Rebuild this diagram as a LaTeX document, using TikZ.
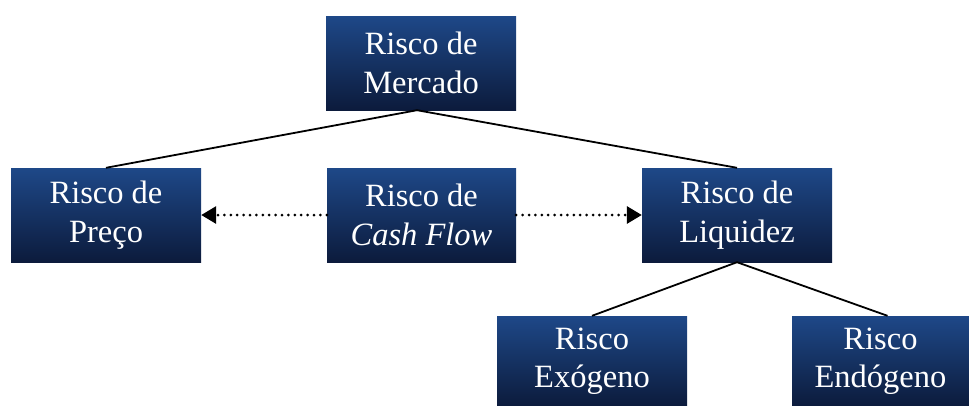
\documentclass[tikz,border=0pt]{standalone}
\usepackage{fontspec}
\setmainfont{Liberation Serif}
\usetikzlibrary{arrows.meta}
\definecolor{boxtop}{RGB}{30,72,136}
\definecolor{boxbot}{RGB}{12,27,60}
\begin{document}
\begin{tikzpicture}[x=1pt,y=-1pt,
  box/.style={rectangle, inner sep=0pt, top color=boxtop, bottom color=boxbot, draw=none,
    text=white, align=center, font=\fontsize{32.5}{38.5}\selectfont},
  link/.style={draw=black, line width=1.8pt},
  dotarrow/.style={draw=black, line width=3pt, line cap=round, dash pattern=on 0pt off 6.4pt,
    -{Triangle[length=15pt,width=17pt,line cap=butt]}}]
\useasboundingbox (0,0) rectangle (969,405);
\node[box, minimum width=190pt, minimum height=94pt] (merc) at (421,63) {Risco de\\Mercado};
\node[box, minimum width=190pt, minimum height=94pt] (preco) at (106,215) {Risco de\\Preço};
\node[box, minimum width=189pt, minimum height=94pt] (cash) at (421.5,215) {Risco de\\\textit{Cash Flow}};
\node[box, minimum width=190pt, minimum height=94pt] (liq) at (737,215) {Risco de\\Liquidez};
\node[box, minimum width=190pt, minimum height=90pt] (exo) at (592,361) {Risco\\Exógeno};
\node[box, minimum width=177pt, minimum height=90pt] (endo) at (880.5,361) {Risco\\Endógeno};
\draw[link] (preco.north) -- ([xshift=-4pt]merc.south) -- (liq.north);
\draw[link] (exo.north) -- (liq.south) -- ([xshift=7pt]endo.north);
\draw[dotarrow] (cash.west) -- (preco.east);
\draw[dotarrow] (cash.east) -- (liq.west);
\end{tikzpicture}
\end{document}
